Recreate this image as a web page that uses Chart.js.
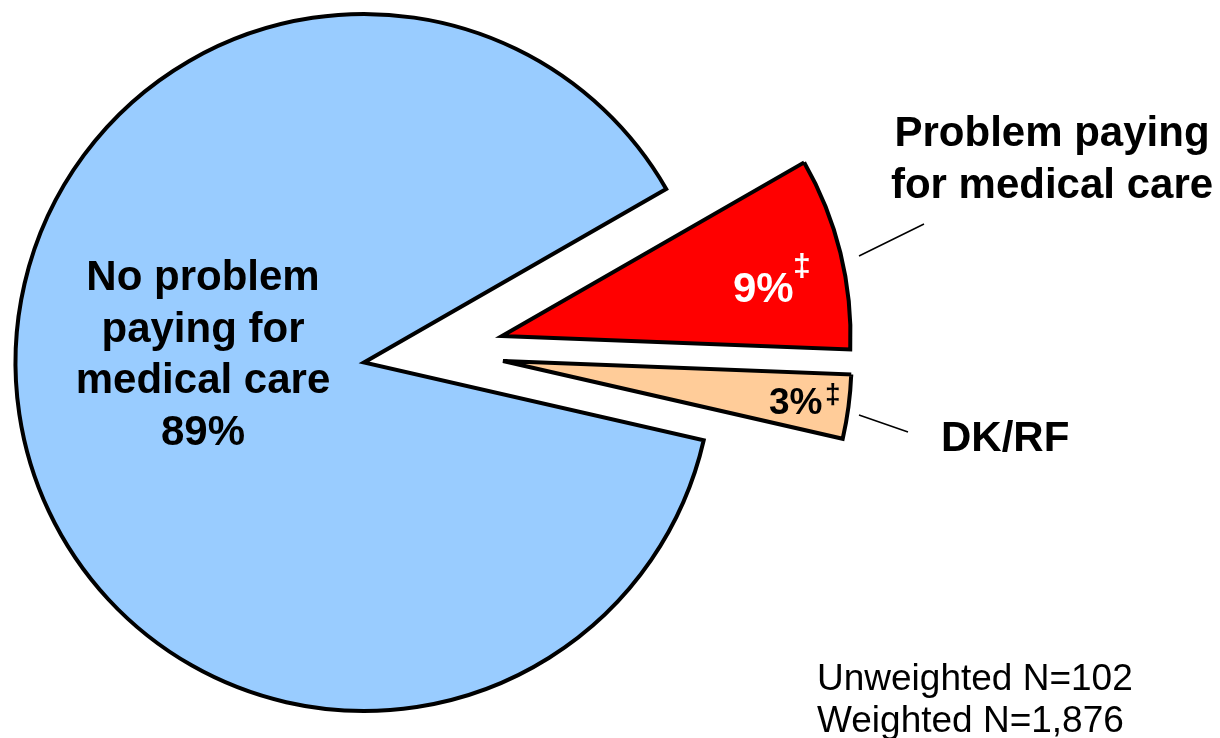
<!DOCTYPE html>
<html>
<head>
<meta charset="utf-8">
<script src="https://cdn.jsdelivr.net/npm/chart.js@4.4.1/dist/chart.umd.min.js"></script>
<style>
  body { margin: 0; background: #fff; }
  #stage { position: relative; width: 1220px; height: 738px; }
  #stage canvas { position: absolute; left: 0; top: 0; }
</style>
</head>
<body>
<div id="stage">
  <canvas id="slice0" width="1220" height="738"></canvas>
  <canvas id="slice1" width="1220" height="738"></canvas>
  <canvas id="slice2" width="1220" height="738"></canvas>
</div>
<script>
// data
const categories = [
    ['No problem', 'paying for', 'medical care'],
    ['Problem paying', 'for medical care'],
    ['DK/RF']
];
const shares = [89, 9, 3];
const sliceColors = ['#99CCFF', '#FF0000', '#FFCC99'];
const footnote = ['Unweighted N=102', 'Weighted N=1,876'];

const W = 1220, H = 738;
const RADIUS = 348.5;
// Chart.js v4 offset also grows the slice radius, so each exploded slice
// gets its own canvas, centred where the original puts it
const centers = [[364, 362.5], [502, 336], [503, 361]];

const FONT = '"Liberation Sans", Arial, sans-serif';

const labelPlugin = {
    id: 'pieLabels',
    afterDraw(chart) {
        const ctx = chart.ctx;
        ctx.save();
        ctx.fillStyle = '#000';
        ctx.textBaseline = 'alphabetic';

        // big slice label, centred inside the blue part
        ctx.font = 'bold 42px ' + FONT;
        ctx.textAlign = 'center';
        const blueLines = categories[0].concat([shares[0] + '%']);
        blueLines.forEach((t, i) => ctx.fillText(t, 203, 290 + i * 51.7));

        // outside labels
        categories[1].forEach((t, i) => ctx.fillText(t, 1052, 146 + i * 52));
        ctx.textAlign = 'left';
        ctx.fillText(categories[2][0], 941, 451);

        // leader lines
        ctx.strokeStyle = '#000';
        ctx.lineWidth = 1.5;
        ctx.beginPath();
        ctx.moveTo(859, 256); ctx.lineTo(924, 224);
        ctx.moveTo(859, 415); ctx.lineTo(908, 432);
        ctx.stroke();

        // percentages inside the small slices
        ctx.fillStyle = '#fff';
        ctx.font = 'bold 42px ' + FONT;
        ctx.fillText(shares[1] + '%', 733, 302);
        ctx.font = 'bold 32px ' + FONT;
        ctx.fillText('\u2021', 793, 276);

        ctx.fillStyle = '#000';
        ctx.font = 'bold 37px ' + FONT;
        ctx.fillText(shares[2] + '%', 769, 414);
        ctx.font = 'bold 28px ' + FONT;
        ctx.fillText('\u2021', 825, 403);

        // sample sizes
        ctx.font = '37px ' + FONT;
        footnote.forEach((t, i) => ctx.fillText(t, 817, 690 + i * 42));
        ctx.restore();
    }
};

function makeSliceChart(k) {
    const [cx, cy] = centers[k];
    return new Chart(document.getElementById('slice' + k), {
        type: 'pie',
        data: {
            labels: categories.map(c => c.join(' ')),
            datasets: [{
                data: shares,
                backgroundColor: ctx => ctx.dataIndex === k ? sliceColors[k] : 'rgba(0,0,0,0)',
                borderColor: '#000',
                borderWidth: ctx => ctx.dataIndex === k ? 4 : 0,
                borderJoinStyle: 'miter'
            }]
        },
        options: {
            responsive: false,
            animation: false,
            devicePixelRatio: 1,
            rotation: 102.9,
            radius: RADIUS,
            layout: {
                padding: { left: 0, top: 0, right: W - 2 * cx, bottom: H - 2 * cy }
            },
            plugins: {
                legend: { display: false },
                tooltip: { enabled: false }
            }
        },
        plugins: k === centers.length - 1 ? [labelPlugin] : []
    });
}

centers.forEach((c, k) => makeSliceChart(k));
</script>
</body>
</html>
